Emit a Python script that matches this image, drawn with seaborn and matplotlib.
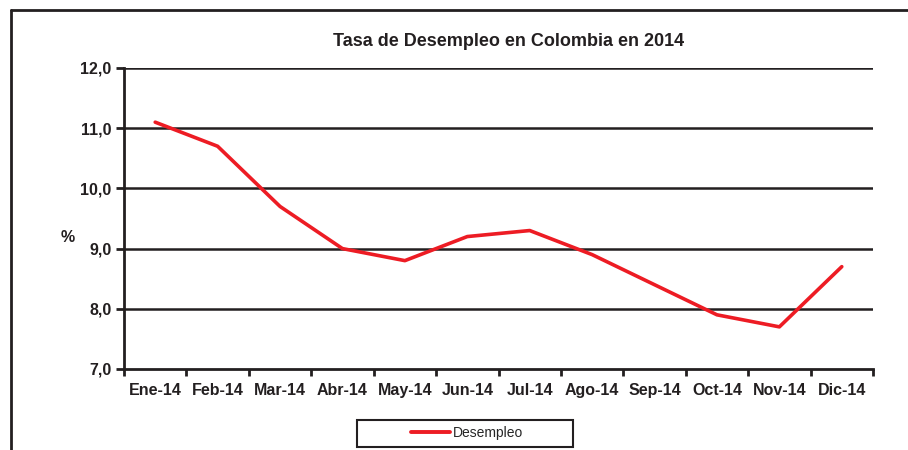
# Tasa de desempleo en Colombia, 2014
import numpy as np
import pandas as pd
import seaborn as sns
import matplotlib.pyplot as plt
from matplotlib.lines import Line2D
from matplotlib.patches import Rectangle

months = ['Ene-14', 'Feb-14', 'Mar-14', 'Abr-14', 'May-14', 'Jun-14',
          'Jul-14', 'Ago-14', 'Sep-14', 'Oct-14', 'Nov-14', 'Dic-14']
desempleo = [11.1, 10.7, 9.7, 9.0, 8.8, 9.2, 9.3, 8.9, 8.4, 7.9, 7.7, 8.7]
y_ticks = [7.0, 8.0, 9.0, 10.0, 11.0, 12.0]

df = pd.DataFrame({'pos': np.arange(len(months)), 'Desempleo': desempleo})

sns.set_style("white")
plt.rcParams['font.family'] = ['Liberation Sans', 'DejaVu Sans']

fig = plt.figure(figsize=(9.08, 4.5), dpi=100)
ax = fig.add_axes([124/908, 1-369/450, (873-124)/908, (369-68)/450])

# horizontal grid lines
for v in y_ticks[1:]:
    ax.axhline(v, color='#231f20', lw=1.8, zorder=1)

sns.lineplot(data=df, x='pos', y='Desempleo', color='#ed1c24', lw=2.6,
             sort=False, ax=ax, zorder=3, legend=False)

ax.set_xlim(-0.5, len(months) - 0.5)
ax.set_ylim(7, 12)
ax.set_yticks(y_ticks)
ax.set_yticklabels([f'{v:.1f}'.replace('.', ',') for v in y_ticks],
                   fontweight='bold', fontsize=11.5)
ax.set_xticks(np.arange(len(months) + 1) - 0.5)
ax.set_xticklabels([])
ax.set_xticks(np.arange(len(months)), minor=True)
ax.set_xticklabels(months, minor=True, fontweight='bold', fontsize=11.5)
for lab in ax.get_xticklabels(minor=True):
    lab.set_va('baseline')
ax.tick_params(axis='x', which='major', direction='out', length=5, width=2,
               color='#231f20', bottom=True)
ax.tick_params(axis='x', which='minor', length=0, pad=19, colors='#231f20')
ax.tick_params(axis='y', direction='out', length=6, width=2, color='#231f20',
               left=True, pad=3, labelcolor='#231f20')

for s in ['top', 'right']:
    ax.spines[s].set_visible(False)
for s in ['left', 'bottom']:
    ax.spines[s].set_color('#231f20')
    ax.spines[s].set_linewidth(2)

ax.set_xlabel('')
ax.set_ylabel('')
fig.text(68/908, 1-238/450, '%', fontweight='bold', fontsize=11.5,
         ha='center', va='center', color='#231f20')
fig.text(509/908, 1-42/450, 'Tasa de Desempleo en Colombia en 2014',
         fontweight='bold', fontsize=13, ha='center', va='center', color='#231f20')

# legend
fig.add_artist(Rectangle((357/908, 1-447/450), 216/908, 27/450,
                         transform=fig.transFigure, fill=False,
                         edgecolor='#231f20', lw=1.5))
handle = Line2D([], [], color='#ed1c24', lw=2.8)
fig.legend([handle], ['Desempleo'], loc='center',
           bbox_to_anchor=(467/908, 1-433/450), frameon=False, fontsize=10,
           handlelength=2.8, handletextpad=0.2)

# outer frame
fig.add_artist(Line2D([11/908, 11/908], [0, 1-10/450], color='#231f20', lw=2,
                      transform=fig.transFigure))
fig.add_artist(Line2D([11/908, 1], [1-10/450, 1-10/450], color='#231f20', lw=2,
                      transform=fig.transFigure))

fig.savefig('out.png', dpi=100)
